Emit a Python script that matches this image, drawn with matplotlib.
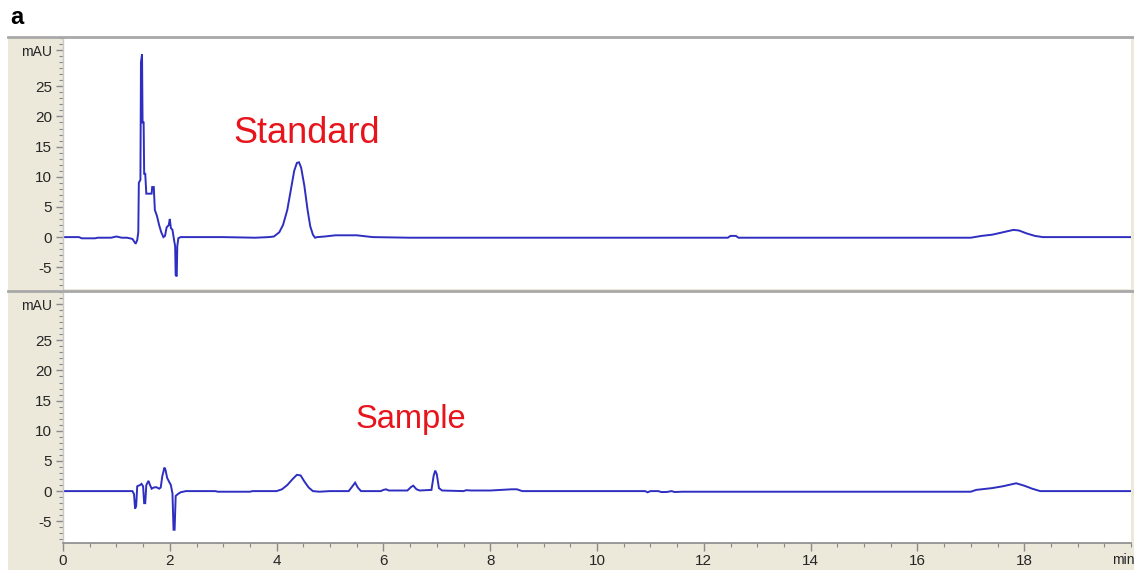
import matplotlib
matplotlib.use("Agg")
import matplotlib.pyplot as plt
from matplotlib.patches import Rectangle
from matplotlib.lines import Line2D
from matplotlib.ticker import MultipleLocator

t_std = [0, 0.3, 0.35, 0.6, 0.65, 0.9, 1.0, 1.1, 1.2, 1.3, 1.36, 1.39, 1.41, 1.42,
         1.45, 1.46, 1.48, 1.49, 1.51, 1.52, 1.54, 1.56, 1.66, 1.67, 1.70, 1.72,
         1.76, 1.80, 1.84, 1.88, 1.91, 1.94, 1.98, 2.00, 2.02, 2.05, 2.08, 2.10,
         2.11, 2.13, 2.14, 2.16, 2.20, 3.0, 3.6, 3.85, 3.95, 4.05, 4.12, 4.20,
         4.27, 4.33, 4.38, 4.42, 4.46, 4.52, 4.58, 4.63, 4.68, 4.72, 4.76, 4.9,
         5.1, 5.5, 5.7, 5.8, 6.5, 12.45, 12.5, 12.6, 12.65, 17.0, 17.2, 17.4,
         17.6, 17.8, 17.9, 18.05, 18.2, 18.35, 20.0]
y_std = [0, 0, -0.2, -0.2, -0.1, -0.1, 0.1, -0.1, -0.1, -0.3, -1.1, -0.5, 0.8, 9.0,
         9.5, 29.0, 30.3, 19.0, 19.0, 10.5, 10.5, 7.2, 7.2, 8.3, 8.3, 4.5,
         3.5, 2.0, 0.8, 0.0, 0.2, 1.6, 2.0, 3.0, 1.5, 1.2, -0.5, -1.5,
         -6.3, -6.5, -1.5, -0.2, 0.0, 0.0, -0.1, 0.0, 0.1, 0.8, 2.0, 4.5,
         8.0, 11.0, 12.3, 12.4, 11.5, 8.5, 4.5, 1.8, 0.4, -0.1, 0.0, 0.1,
         0.3, 0.3, 0.1, 0.0, -0.1, -0.1, 0.2, 0.2, -0.1, -0.1, 0.2, 0.4,
         0.8, 1.2, 1.1, 0.6, 0.2, 0.0, 0.0]

t_smp = [0, 1.30, 1.33, 1.35, 1.37, 1.39, 1.44, 1.47, 1.50, 1.52, 1.54, 1.56, 1.60,
         1.63, 1.66, 1.70, 1.75, 1.80, 1.83, 1.86, 1.90, 1.92, 1.95, 1.99, 2.02,
         2.05, 2.07, 2.09, 2.11, 2.15, 2.20, 2.30, 2.85, 2.90, 3.50, 3.55, 4.00,
         4.10, 4.20, 4.30, 4.38, 4.45, 4.52, 4.60, 4.68, 4.80, 5.00, 5.35, 5.42,
         5.47, 5.52, 5.58, 5.95, 6.00, 6.05, 6.10, 6.45, 6.52, 6.56, 6.62, 6.68,
         6.90, 6.94, 6.97, 7.00, 7.04, 7.10, 7.50, 7.55, 7.65, 8.00, 8.40, 8.50,
         8.60, 8.70, 10.90, 10.95, 11.00, 11.15, 11.20, 11.30, 11.40, 11.45,
         11.60, 17.0, 17.1, 17.4, 17.6, 17.85, 18.0, 18.15, 18.3, 20.0]
y_smp = [0, 0, -0.5, -2.9, -2.5, 0.8, 1.0, 1.2, 0.8, -2.0, -2.0, 1.0, 1.7,
         1.0, 0.4, 0.6, 0.65, 0.4, 0.6, 2.5, 3.9, 3.5, 2.2, 1.5, 1.0,
         -0.4, -6.4, -6.4, -0.8, -0.5, -0.2, 0.0, 0.0, -0.1, -0.1, 0.0, 0.0,
         0.3, 1.0, 2.0, 2.7, 2.6, 1.6, 0.6, 0.0, -0.1, 0.0, 0.0, 0.8,
         1.4, 0.6, 0.0, 0.0, 0.2, 0.3, 0.1, 0.1, 0.7, 0.9, 0.3, 0.1,
         0.2, 2.5, 3.4, 2.8, 0.5, 0.1, 0.0, 0.15, 0.1, 0.1, 0.3, 0.3,
         0.0, 0.0, 0.0, -0.2, 0.0, 0.0, -0.15, -0.15, 0.0, -0.15,
         -0.1, -0.1, 0.2, 0.5, 0.8, 1.3, 0.9, 0.4, 0.0, 0.0]

y_ticks = [-5, 0, 5, 10, 15, 20, 25, 31]
y_ticklabels = ["-5", "0", "5", "10", "15", "20", "25", "mAU"]
x_ticks = [0, 2, 4, 6, 8, 10, 12, 14, 16, 18]
x_ticklabels = ["0", "2", "4", "6", "8", "10", "12", "14", "16", "18"]
labels = ["Standard", "Sample"]

# ---------------- figure ----------------
W, H = 1134, 570
plt.rcParams['font.family'] = ['Liberation Sans', 'DejaVu Sans']
fig = plt.figure(figsize=(W / 100, H / 100), dpi=100)
fig.patch.set_facecolor("white")

beige = "#ECE9DA"
bg = Rectangle((8 / W, 0), 1 - 8 / W, 1 - 37 / H, transform=fig.transFigure,
               facecolor=beige, edgecolor='none', zorder=-10)
fig.add_artist(bg)

line_col = "#2E2EC0"
tick_col = "#8A8A8A"
lab_col = "#262626"

def px(x0, y0, x1, y1):
    return [x0 / W, 1 - y1 / H, (x1 - x0) / W, (y1 - y0) / H]

ax1 = fig.add_axes(px(63, 38, 1131, 289))
ax2 = fig.add_axes(px(63, 292, 1131, 543))

for ax, t, y, lab, lx, ly, fs in [(ax1, t_std, y_std, labels[0], 4.57, 17.2, 26),
                                  (ax2, t_smp, y_smp, labels[1], 6.52, 11.8, 23.5)]:
    ax.set_zorder(1)
    ax.set_facecolor("white")
    ax.plot(t, y, color=line_col, lw=1.4, solid_joinstyle='miter')
    ax.set_xlim(0, 20)
    ax.set_ylim(-8.6, 33)
    ax.set_yticks(y_ticks)
    ax.set_yticklabels(y_ticklabels)
    ax.yaxis.set_minor_locator(MultipleLocator(1))
    ax.tick_params(axis='y', which='major', length=5, width=1, color=tick_col,
                   labelsize=11, labelcolor=lab_col, pad=3)
    ax.tick_params(axis='y', which='minor', length=3, width=0.8, color=tick_col)
    for s in ['top', 'right']:
        ax.spines[s].set_visible(False)
    ax.spines['left'].set_color("#C8C8C8")
    ax.spines['left'].set_linewidth(1)
    ax.text(lx, ly, lab, color="#E8141C", fontsize=fs, ha='center', va='center')
    ax.get_yticklabels()[-1].set_fontsize(10)

ax1.spines['bottom'].set_visible(False)
ax1.set_xticks([])

ax2.spines['bottom'].set_color(tick_col)
ax2.spines['bottom'].set_linewidth(1.2)
ax2.set_xticks(x_ticks)
ax2.set_xticklabels(x_ticklabels)
ax2.xaxis.set_minor_locator(MultipleLocator(0.5))
ax2.tick_params(axis='x', which='major', length=6, width=1, color=tick_col,
                labelsize=11, labelcolor=lab_col, pad=2)
ax2.tick_params(axis='x', which='minor', length=3, width=0.8, color=tick_col)
ax2.text(19.85, -10.3, "min", ha='center', va='top', fontsize=10,
         color=lab_col, clip_on=False)

# separators
for yy in (37, 290.5):
    fig.add_artist(Line2D([8 / W, 1], [1 - yy / H, 1 - yy / H], transform=fig.transFigure,
                          color="#A8A8A8", lw=2, zorder=5))

fig.text(10 / W, 1 - 18 / H, "a", fontsize=17, fontweight='bold', ha='left', va='center')

fig.savefig("out.png", dpi=100)
